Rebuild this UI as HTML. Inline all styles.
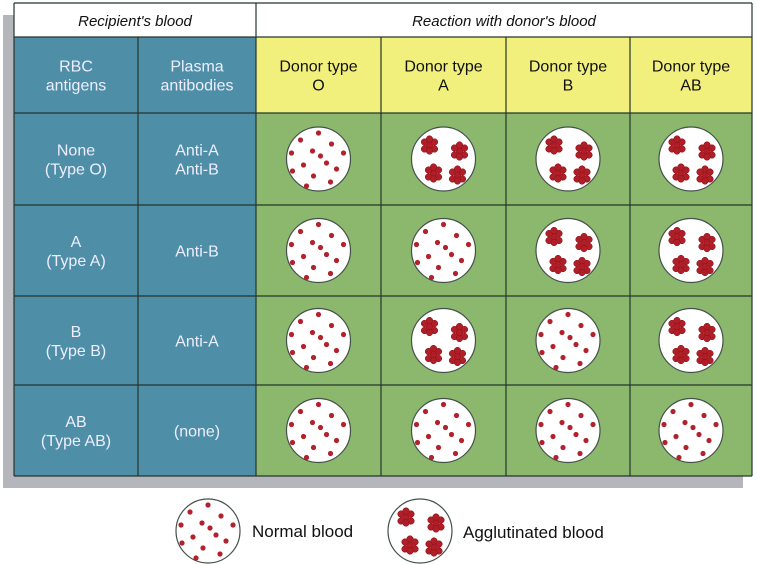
<!DOCTYPE html>
<html><head><meta charset="utf-8">
<style>
body{margin:0;background:#fff;width:757px;height:565px;overflow:hidden;font-family:"Liberation Sans",sans-serif}
svg{display:block}
text{font-family:"Liberation Sans",sans-serif}
</style></head>
<body>
<svg id="chart" width="757" height="565" viewBox="0 0 757 565">
<rect x="3" y="15" width="740" height="473" fill="#b4b6bc"/>
<g id="tbl"></g>
<g id="legend"></g>
</svg>
<script>
const recipientLabels=[["None","(Type O)"],["A","(Type A)"],["B","(Type B)"],["AB","(Type AB)"]];
const antibodyLabels=[["Anti-A","Anti-B"],["Anti-B"],["Anti-A"],["(none)"]];
const donorLabels=["O","A","B","AB"];
// 1 = agglutinated, 0 = normal
const reaction=[[0,1,1,1],[0,0,1,1],[0,1,0,1],[0,0,0,0]];

const NS="http://www.w3.org/2000/svg";
const tbl=document.getElementById('tbl');
function mk(tag,attrs,parent){const e=document.createElementNS(NS,tag);for(const k in attrs)e.setAttribute(k,attrs[k]);(parent||tbl).appendChild(e);return e;}
const colX=[14,138,256,381,506,630,752];
const rowY=[3,37,113,205,296,385,476];
const blue="#4e8ea6",yellow="#f2f07c",green="#8bb86c",line="#26352c";

// header row
let r=mk('rect',{x:14,y:3,width:738,height:34,fill:'#fff'});


let t=mk('text',{x:135,y:26,'text-anchor':'middle','font-size':15,'font-style':'italic',fill:'#111'});t.textContent="Recipient's blood";


t=mk('text',{x:504,y:26,'text-anchor':'middle','font-size':15,'font-style':'italic',fill:'#111'});t.textContent="Reaction with donor's blood";


// blue column
r=mk('rect',{x:14,y:37,width:242,height:439,fill:blue});


r=mk('rect',{x:256,y:37,width:496,height:76,fill:yellow});


r=mk('rect',{x:256,y:113,width:496,height:363,fill:green});



function lines(x,y,arr,col,name){const n=arr.length;const y0=y-(n-1)*9.5;arr.forEach((s,i)=>{const e=mk('text',{x:x,y:y0+i*19+6,'text-anchor':'middle','font-size':16,fill:col});e.textContent=s;

});}
lines(76,75,["RBC","antigens"],'#eef','rbc-antigens-header');
lines(197,75,["Plasma","antibodies"],'#eef','plasma-antibodies-header');
donorLabels.forEach((d,i)=>lines((colX[i+2]+colX[i+3])/2,75,["Donor type",d],'#111','donor-type-'+d.toLowerCase()));
recipientLabels.forEach((l,i)=>lines(76,(rowY[i+2]+rowY[i+3])/2,l,'#eef','recipient-type'));
antibodyLabels.forEach((l,i)=>lines(197,(rowY[i+2]+rowY[i+3])/2,l,'#eef','antibody-label'));

const normalDots=[[0,-26],[-18,-19],[13,-15],[-27,-6],[-6,-8],[25,-6],[-15,6],[8,4],[-26,12],[18,10],[-5,17],[-12,27],[12,23],[2,-3]];
const clumpCenters=[[-14,-14],[16,-8],[-10,14],[14,16]];
const clumpOffs=[[0,0],[-5,-3],[5,-3],[-5,4],[5,4],[0,-6],[0,6]];
function circle(g,cx,cy,agg){
  mk('circle',{cx:cx,cy:cy,r:32,fill:'#fff',stroke:'#44504a','stroke-width':1.2},g);
  if(!agg){normalDots.forEach(p=>mk('circle',{cx:cx+p[0],cy:cy+p[1],r:2.6,fill:'#b3222c'},g));}
  else{clumpCenters.forEach(c=>clumpOffs.forEach(o=>mk('circle',{cx:cx+c[0]+o[0],cy:cy+c[1]+o[1],r:3.3,fill:'#b01e28',stroke:'#8a1018','stroke-width':0.5},g)));}
}
reaction.forEach((row,i)=>row.forEach((v,j)=>{
  const g=mk('g',{});
  
  
  circle(g,(colX[j+2]+colX[j+3])/2,(rowY[i+2]+rowY[i+3])/2,v);
}));
// grid lines
colX.forEach((x,i)=>{const y1=(i===1||i>=3&&i<6)?37:3;mk('line',{x1:x,y1:y1,x2:x,y2:476,stroke:line,'stroke-width':1.2});});
rowY.forEach((y,i)=>{mk('line',{x1:14,y1:y,x2:752,y2:y,stroke:line,'stroke-width':1.2});});

const leg=document.getElementById('legend');
let g=mk('g',{},leg);


circle(g,208,531,0);
t=mk('text',{x:252,y:537,'font-size':17,fill:'#111'},leg);t.textContent="Normal blood";


g=mk('g',{},leg);


circle(g,420,531,1);
t=mk('text',{x:463,y:538,'font-size':17,fill:'#111'},leg);t.textContent="Agglutinated blood";


</script>
</body></html>
